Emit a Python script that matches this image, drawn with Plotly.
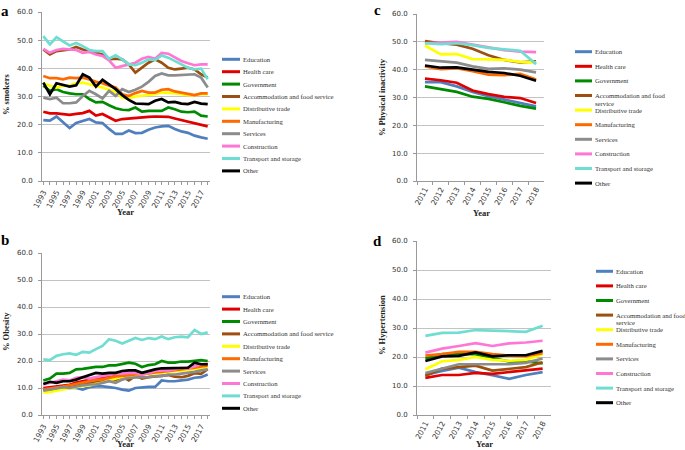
import plotly.graph_objects as go

# ---- data (percent) ----
sectors = ["Education", "Health care", "Government", "Accommodation and food service",
           "Distributive trade", "Manufacturing", "Services", "Construction",
           "Transport and storage", "Other"]
colors = ["#4f7fbf", "#e00000", "#008a00", "#9c4f0e", "#ffff00",
          "#ff6a00", "#8c8c8c", "#ff77d5", "#6fded2", "#000000"]

years_long = list(range(1993, 2019))
years_short = ["2011", "2012", "2013", "2014", "2015", "2016", "2017", "2018"]

smoking = {
    "Education": [21.6, 21.4, 22.9, 20.8, 18.8, 20.6, 21.4, 22.0, 20.8, 20.6, 18.5, 16.7, 16.7,
                  17.9, 17.0, 17.1, 18.2, 19.0, 19.4, 19.6, 18.5, 17.6, 17.1, 16.1, 15.5, 15.0],
    "Health care": [24.6, 24.0, 24.0, 23.8, 23.5, 23.8, 24.1, 24.9, 23.2, 23.8, 22.6, 21.4, 22.0,
                    22.2, 22.6, 22.6, 22.8, 22.9, 22.9, 22.8, 22.2, 21.6, 21.0, 20.5, 19.9, 19.4],
    "Government": [33.8, 32.0, 32.6, 31.6, 31.1, 30.8, 30.8, 29.1, 27.9, 28.1, 26.9, 25.8, 25.3,
                   25.2, 26.1, 24.6, 24.9, 24.9, 24.9, 26.1, 25.5, 24.6, 24.4, 24.6, 23.2, 22.9],
    "Accommodation and food service": [46.7, 44.9, 46.1, 46.5, 46.7, 47.6, 46.7, 46.1, 45.5, 44.9,
                                       43.2, 43.4, 43.2, 41.4, 38.5, 40.2, 42.0, 43.2, 42.0, 40.2,
                                       39.6, 39.9, 40.2, 39.6, 37.9, 36.7],
    "Distributive trade": [34.7, 33.8, 33.2, 33.8, 34.0, 34.7, 34.9, 34.4, 33.8, 33.2, 32.4, 31.6,
                           29.6, 29.3, 30.0, 30.2, 30.5, 30.8, 31.4, 31.4, 31.2, 30.8, 30.5, 30.5,
                           30.8, 30.8],
    "Manufacturing": [37.3, 36.5, 36.5, 36.1, 36.7, 36.5, 36.7, 36.1, 35.2, 34.7, 33.8, 33.2, 30.8,
                      30.2, 31.2, 32.0, 31.4, 31.4, 32.4, 32.6, 31.8, 31.4, 30.8, 30.5, 31.1, 31.1],
    "Services": [29.6, 29.1, 29.6, 27.6, 27.6, 27.9, 30.2, 32.0, 30.8, 29.3, 32.0, 30.2, 32.6,
                 31.6, 32.4, 33.5, 35.2, 37.3, 38.2, 37.5, 37.5, 37.6, 37.8, 37.9, 36.7, 33.2],
    "Construction": [46.9, 45.5, 46.5, 46.9, 46.7, 46.5, 45.5, 45.8, 44.9, 44.4, 42.8, 40.2, 40.8,
                     41.4, 42.0, 43.4, 44.1, 43.4, 45.5, 45.2, 43.8, 42.6, 41.8, 41.1, 41.4, 41.4],
    "Transport and storage": [51.4, 48.5, 51.0, 49.6, 48.1, 49.0, 47.9, 46.5, 46.1, 46.1, 43.4,
                              44.6, 43.2, 41.4, 41.1, 42.0, 43.2, 42.9, 44.6, 43.8, 42.6, 41.4,
                              40.2, 39.6, 39.9, 36.1],
    "Other": [34.9, 30.8, 34.7, 34.0, 33.5, 34.0, 37.9, 36.7, 33.5, 35.9, 34.4, 32.6, 30.5, 28.8,
              27.5, 27.5, 27.3, 28.5, 29.1, 27.9, 28.1, 27.5, 27.3, 28.1, 27.5, 27.3],
}

obesity = {
    "Education": [9.4, 9.0, 9.4, 10.0, 10.0, 10.0, 9.4, 10.3, 10.6, 10.6, 10.3, 10.0, 9.4, 9.0,
                  10.0, 10.3, 10.4, 10.4, 12.8, 12.5, 12.5, 12.8, 13.1, 13.8, 14.0, 15.0],
    "Health care": [10.0, 10.3, 10.8, 11.0, 11.2, 12.0, 12.5, 13.0, 13.2, 13.8, 14.0, 14.5, 15.0,
                    15.2, 15.5, 15.3, 15.8, 16.0, 16.5, 16.8, 17.0, 17.2, 17.5, 18.0, 18.5, 18.8],
    "Government": [12.8, 13.5, 15.3, 15.3, 15.6, 16.9, 17.1, 17.5, 17.8, 17.8, 18.4, 18.4, 19.0,
                   19.4, 19.0, 17.8, 18.5, 18.8, 20.0, 19.4, 19.4, 19.8, 19.8, 20.0, 20.3, 20.0],
    "Accommodation and food service": [9.2, 9.8, 10.2, 10.5, 10.8, 11.0, 11.5, 11.8, 12.0, 12.3,
                                       12.5, 13.0, 14.2, 12.8, 14.5, 13.5, 14.0, 14.3, 14.5, 14.8,
                                       14.2, 14.0, 14.5, 15.5, 15.2, 17.0],
    "Distributive trade": [8.3, 8.5, 9.0, 9.5, 10.0, 10.3, 10.8, 11.0, 11.5, 12.0, 12.8, 13.5,
                           14.2, 14.5, 14.8, 15.0, 15.2, 15.5, 15.8, 16.0, 16.2, 16.5, 16.8, 17.0,
                           17.3, 17.5],
    "Manufacturing": [9.5, 9.8, 10.3, 10.5, 11.0, 11.5, 12.0, 12.5, 13.0, 13.2, 13.8, 14.3, 14.5,
                      14.8, 15.0, 15.0, 15.5, 15.8, 16.0, 16.3, 16.5, 16.8, 17.0, 17.5, 18.0, 18.3],
    "Services": [9.0, 9.4, 10.0, 10.3, 10.0, 10.6, 11.0, 11.3, 11.3, 11.9, 12.5, 11.9, 13.1, 13.8,
                 13.8, 14.0, 14.0, 14.4, 14.4, 15.0, 15.0, 15.3, 15.6, 16.0, 16.5, 16.9],
    "Construction": [11.3, 11.9, 12.5, 13.1, 12.8, 13.8, 14.0, 13.5, 14.0, 14.4, 14.8, 15.3, 15.3,
                     15.6, 15.6, 15.0, 15.6, 16.3, 16.5, 16.5, 16.9, 17.5, 17.3, 18.1, 18.8, 19.0],
    "Transport and storage": [20.6, 20.3, 21.9, 22.5, 22.8, 22.3, 23.4, 23.1, 24.4, 25.6, 28.1,
                              27.5, 26.5, 27.5, 28.5, 27.8, 28.5, 28.1, 29.1, 28.1, 28.8, 29.0,
                              28.8, 31.5, 30.0, 30.6],
    "Other": [11.5, 12.3, 11.9, 12.5, 12.5, 13.1, 14.0, 14.8, 15.6, 15.3, 15.6, 15.6, 16.3, 16.5,
              16.5, 15.6, 16.3, 16.9, 17.3, 17.3, 17.5, 17.5, 17.5, 19.4, 18.8, 18.8],
}

inactivity = {
    "Education": [35.5, 35.5, 34.0, 32.0, 30.5, 29.3, 28.0, 26.8],
    "Health care": [36.8, 36.2, 35.3, 32.5, 31.2, 30.2, 29.8, 28.0],
    "Government": [34.0, 33.0, 32.0, 30.3, 29.5, 28.3, 27.0, 26.0],
    "Accommodation and food service": [50.3, 49.5, 49.0, 47.5, 45.2, 43.5, 42.6, 43.0],
    "Distributive trade": [48.7, 45.5, 45.6, 43.8, 43.7, 43.5, 42.8, 42.5],
    "Manufacturing": [41.2, 40.2, 40.5, 39.5, 38.2, 38.0, 38.5, 36.5],
    "Services": [43.5, 43.0, 42.5, 41.2, 40.3, 40.5, 40.0, 39.0],
    "Construction": [49.5, 49.8, 50.0, 49.0, 48.0, 47.0, 46.5, 46.3],
    "Transport and storage": [49.5, 49.2, 49.5, 48.8, 47.8, 47.2, 46.8, 42.0],
    "Other": [41.5, 40.7, 40.8, 40.0, 39.2, 38.8, 37.8, 36.0],
}

hypertension = {
    "Education": [13.8, 15.2, 16.3, 14.8, 13.7, 12.5, 13.8, 14.8],
    "Health care": [12.8, 13.8, 13.8, 14.5, 14.2, 14.8, 15.5, 16.0],
    "Government": [19.5, 21.0, 21.0, 21.0, 19.5, 18.5, 18.5, 17.8],
    "Accommodation and food service": [13.5, 16.0, 16.5, 17.0, 15.3, 16.0, 16.5, 18.2],
    "Distributive trade": [15.8, 18.5, 19.0, 20.0, 19.0, 18.7, 19.0, 21.0],
    "Manufacturing": [20.5, 21.0, 21.8, 21.8, 21.0, 20.5, 20.3, 21.3],
    "Services": [14.5, 16.0, 17.5, 17.5, 17.5, 17.5, 18.0, 19.5],
    "Construction": [21.5, 22.9, 23.8, 24.8, 23.8, 24.7, 25.0, 25.6],
    "Transport and storage": [27.3, 28.3, 28.4, 29.3, 29.1, 28.8, 28.7, 30.8],
    "Other": [18.6, 20.2, 20.4, 21.6, 20.2, 20.6, 20.6, 22.1],
}

tick_labels_long = [str(y) if (y - 1993) % 2 == 0 else "" for y in years_long]
y_ticks = [0, 10, 20, 30, 40, 50, 60]

# ---- layout helpers (pixel -> paper, margins are zero) ----
W, H = 685, 450


def px(x):
    return x / W


def py(y):
    return 1 - y / H


SERIF = "Liberation Serif"
SANS = "DejaVu Sans"
GRID = "#c3c3c3"
AXIS = "#9a9a9a"
LEG_SIZE = 6.7

fig = go.Figure()

panels = [
    dict(data=smoking, xs=years_long, ax="", xr=(42, 210), yr=(12, 181),
         title="% smokers", tpos=(6, 94), ypos=(126, 212), letter="a", lpos=(5, 11),
         leg=dict(x0=222, x1=240, y0=59.3, dy=12.4, wrap=False)),
    dict(data=inactivity, xs=years_short, ax="2", xr=(417, 544), yr=(14, 181),
         title="% Physical inactivity", tpos=(382, 97), ypos=(481, 213), letter="c", lpos=(377, 10),
         leg=dict(x0=575, x1=592, y0=51.7, dy=14.6, wrap=True)),
    dict(data=obesity, xs=years_long, ax="3", xr=(42, 210), yr=(253, 415),
         title="% Obesity", tpos=(6, 332), ypos=(126, 444), letter="b", lpos=(5, 240),
         leg=dict(x0=222, x1=240, y0=296.7, dy=12.4, wrap=False)),
    dict(data=hypertension, xs=years_short, ax="4", xr=(417, 551), yr=(241, 415),
         title="% Hypertension", tpos=(382, 325), ypos=(484, 444), letter="d", lpos=(377, 241),
         leg=dict(x0=596, x1=613, y0=271.3, dy=14.6, wrap=True)),
]


def note(x, y, text, size, family=SERIF, color="#222222", xanchor="center", angle=0):
    fig.add_annotation(x=px(x), y=py(y), text=text, showarrow=False, xref="paper",
                       yref="paper", xanchor=xanchor, yanchor="middle", textangle=angle,
                       font=dict(family=family, size=size, color=color))


for p in panels:
    for name, col in zip(sectors, colors):
        fig.add_trace(go.Scatter(
            x=p["xs"], y=p["data"][name], mode="lines", name=name,
            line=dict(color=col, width=2.7), showlegend=False,
            xaxis="x" + p["ax"], yaxis="y" + p["ax"],
        ))

    long_axis = p["xs"] is years_long
    xaxis = dict(
        domain=[px(p["xr"][0]), px(p["xr"][1])], automargin=False,
        anchor="y" + p["ax"], showgrid=False, showline=True, linecolor=AXIS, linewidth=1,
        ticks="outside", ticklen=3, tickcolor=AXIS, tickangle=-62,
        tickfont=dict(family=SANS, size=7.5, color="#333333"),
        zeroline=False,
    )
    if long_axis:
        xaxis.update(type="linear", range=[1992.8, 2018.35], tickmode="array",
                     tickvals=years_long, ticktext=tick_labels_long)
    else:
        xaxis.update(type="category", tickson="boundaries", range=[-0.5, 7.5])
    yaxis = dict(
        domain=[py(p["yr"][1]), py(p["yr"][0])], automargin=False,
        anchor="x" + p["ax"], range=[0, 60], tickmode="array", tickvals=y_ticks,
        tickformat=".1f", ticksuffix="%", showgrid=True, gridcolor=GRID, gridwidth=1,
        showline=True, linecolor=AXIS, linewidth=1, ticks="outside", ticklen=3,
        tickcolor=AXIS, ticklabelstandoff=4, zeroline=False,
        tickfont=dict(family=SANS, size=7, color="#333333"),
    )
    fig.update_layout({"xaxis" + p["ax"]: xaxis, "yaxis" + p["ax"]: yaxis})

    # axis titles and panel letter
    note(p["tpos"][0], p["tpos"][1], "<b>%s</b>" % p["title"], 8.5, angle=-90)
    note(p["ypos"][0], p["ypos"][1], "<b>Year</b>", 8.5)
    note(p["lpos"][0], p["lpos"][1], "<b>%s</b>" % p["letter"], 15, color="#000000")

    # legend drawn by hand (compact, like the original)
    lg = p["leg"]
    for i, (name, col) in enumerate(zip(sectors, colors)):
        yy = lg["y0"] + i * lg["dy"]
        fig.add_shape(type="line", xref="paper", yref="paper",
                      x0=px(lg["x0"]), x1=px(lg["x1"]), y0=py(yy), y1=py(yy),
                      line=dict(color=col, width=3))
        if lg["wrap"] and name == "Accommodation and food service":
            note(lg["x1"] + 0.5, yy, "Accommodation and food", LEG_SIZE,
                 color="#333333", xanchor="left")
            note(lg["x1"] + 0.5, yy + 7.6, "service", LEG_SIZE,
                 color="#333333", xanchor="left")
        else:
            note(lg["x1"] + 0.5, yy, name, LEG_SIZE, color="#333333", xanchor="left")

fig.update_layout(
    width=W, height=H, margin=dict(l=0, r=0, t=0, b=0),
    paper_bgcolor="white", plot_bgcolor="white", showlegend=False,
)

fig.write_html("out.html", config={"displayModeBar": False},
               post_script="document.body.style.margin='0';")
